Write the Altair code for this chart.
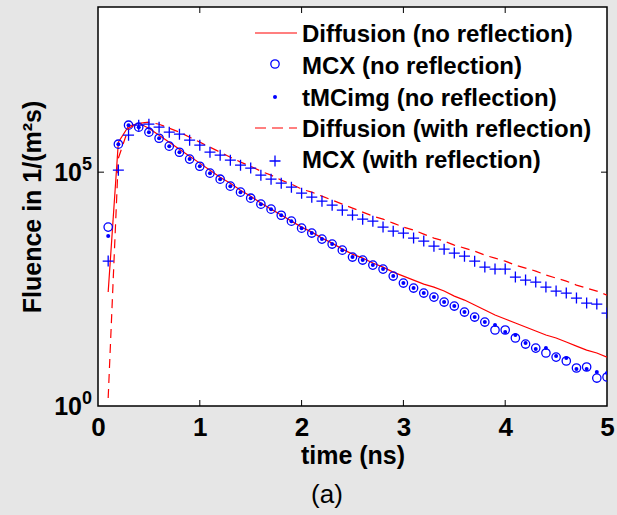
import altair as alt
import pandas as pd

# time axis (ns)
t = [round(0.1 * i, 1) for i in range(1, 51)]

diff_noref = [273, 4.38e5, 9.6e5, 1.11e6, 8.71e5, 6.18e5, 4.38e5, 3.10e5, 2.20e5, 1.56e5,
              1.10e5, 7.82e4, 5.82e4, 4.12e4, 3.07e4, 2.18e4, 1.62e4, 1.21e4, 8.97e3, 6.68e3,
              5.22e3, 3.89e3, 3.04e3, 2.26e3, 1.77e3, 1.45e3, 1.14e3, 933, 730, 600,
              492, 404, 349, 287, 224, 184, 144, 113, 88, 72.3,
              59.4, 48.8, 40.1, 32.9, 28.4, 23.3, 19.1, 15.7, 13.6, 11.1]

mcx_noref = [6683, 3.96e5, 1.01e6, 9.16e5, 7.16e5, 5.32e5, 3.6e5, 2.67e5, 1.9e5, 1.34e5,
             9.53e4, 7.08e4, 5.02e4, 3.74e4, 2.78e4, 2.07e4, 1.62e4, 1.2e4, 8.97e3, 6.35e3,
             4.98e3, 3.7e3, 2.9e3, 2.15e3, 1.53e3, 1.32e3, 1.03e3, 845, 600, 425,
             332, 260, 213, 167, 137, 102, 79.8, 62.4, 42.1, 42.1,
             28.4, 21.1, 17.3, 13.6, 11.1, 9.16, 6.49, 6.81, 3.96, 4.17]

tmc_noref = [4290, 3.96e5, 1.01e6, 9.16e5, 7.16e5, 5.32e5, 3.6e5, 2.67e5, 1.9e5, 1.34e5,
             9.53e4, 7.08e4, 5.02e4, 3.74e4, 2.78e4, 2.07e4, 1.62e4, 1.2e4, 8.97e3, 6.35e3,
             4.98e3, 3.7e3, 2.9e3, 2.15e3, 1.53e3, 1.32e3, 1.03e3, 845, 600, 425,
             332, 260, 213, 167, 137, 102, 79.8, 62.4, 53.8, 38.1,
             32.9, 22.2, 16.5, 17.3, 11.7, 10.6, 6.18, 6.18, 5.33, 5.07]

diff_ref = [1.48, 1.99e5, 8.71e5, 1.11e6, 1.17e6, 1.06e6, 8.71e5, 7.16e5, 5.60e5, 4.38e5,
            3.42e5, 2.67e5, 2.09e5, 1.64e5, 1.34e5, 1.05e5, 8.63e4, 6.75e4, 5.54e4, 4.33e4,
            3.74e4, 3.07e4, 2.52e4, 2.07e4, 1.70e4, 1.40e4, 1.15e4, 9.9e3, 8.13e3, 6.68e3,
            5.77e3, 4.73e3, 3.89e3, 3.36e3, 2.75e3, 2.38e3, 2.05e3, 1.68e3, 1.45e3, 1.25e3,
            1.03e3, 889, 767, 630, 543, 469, 385, 332, 287, 235]

mcx_ref = [1254, 1.10e5, 6.18e5, 1.01e6, 1.06e6, 9.16e5, 7.16e5, 6.49e5, 4.83e5, 3.78e5,
           2.67e5, 2.31e5, 1.80e5, 1.41e5, 1.22e5, 8.63e4, 7.08e4, 5.82e4, 4.78e4, 3.56e4,
           2.92e4, 2.40e4, 1.97e4, 1.54e4, 1.21e4, 9.9e3, 8.97e3, 6.68e3, 5.48e3, 4.98e3,
           3.89e3, 3.36e3, 2.62e3, 2.26e3, 1.86e3, 1.60e3, 1.25e3, 933, 845, 845,
           571, 492, 446, 349, 287, 260, 203, 159, 151, 97]

series_names = ["Diffusion (no reflection)", "MCX (no reflection)", "tMCimg (no reflection)",
                "Diffusion (with reflection)", "MCX (with reflection)"]

x_ticks = [0, 1, 2, 3, 4, 5]
inner_x_ticks = [1, 2, 3, 4]
y_ticks = [1, 1e5]
y_exps = ["0", "5"]

FONT = "Liberation Sans"
RED = "#ff0000"
BLUE = "#0000ff"
W, H = 509, 399

x_enc = alt.X("t:Q", scale=alt.Scale(domain=[0, 5], nice=False, zero=False),
              axis=alt.Axis(title="time (ns)", values=x_ticks, format="d", labelFlush=False,
                            ticks=False, tickSize=0, domain=False, grid=False,
                            labelPadding=8, labelFont=FONT, labelFontSize=26,
                            labelFontWeight="bold", labelColor="black",
                            titleFont=FONT, titleFontSize=25, titleFontWeight="bold",
                            titleColor="black", titleY=57, titleBaseline="alphabetic"))
y_enc = alt.Y("v:Q", scale=alt.Scale(type="log", domain=[1, 3.4e8], nice=False),
              axis=alt.Axis(title="Fluence in 1/(m²s)", labels=False, ticks=False, tickSize=0,
                            domain=False, grid=False, titleFont=FONT, titleFontSize=25,
                            titleFontWeight="bold", titleColor="black", titleX=-66,
                            titleY=199.5, titleAngle=270, titleAlign="center",
                            titleBaseline="middle"))

def df(vals):
    return pd.DataFrame({"t": t, "v": vals})

line1 = alt.Chart(df(diff_noref)).mark_line(color=RED, strokeWidth=1.2, clip=True).encode(x=x_enc, y=y_enc)
circ = alt.Chart(df(mcx_noref)).mark_point(shape="circle", filled=False, color=BLUE, size=70,
                                           strokeWidth=1.3, opacity=1, clip=True).encode(x=x_enc, y=y_enc)
dots = alt.Chart(df(tmc_noref)).mark_point(shape="circle", filled=True, color=BLUE, size=16,
                                           opacity=1, clip=True).encode(x=x_enc, y=y_enc)
line2 = alt.Chart(df(diff_ref)).mark_line(color=RED, strokeWidth=1.2, strokeDash=[9, 6],
                                          clip=True).encode(x=x_enc, y=y_enc)
PLUS = "M-1,0L1,0M0,-1L0,1"
plus = alt.Chart(df(mcx_ref)).mark_point(shape=PLUS, filled=False, color=BLUE, size=121,
                                         strokeWidth=1.3, opacity=1, clip=True).encode(x=x_enc, y=y_enc)

# inner ticks
xt = pd.DataFrame({"t": inner_x_ticks})
bt = alt.Chart(xt).mark_rule(color="black", strokeWidth=1).encode(x=x_enc, y=alt.value(H), y2=alt.value(H - 6))
tt = alt.Chart(xt).mark_rule(color="black", strokeWidth=1).encode(x=x_enc, y=alt.value(0), y2=alt.value(6))
yt = pd.DataFrame({"v": [1e5]})
lt = alt.Chart(yt).mark_rule(color="black", strokeWidth=1).encode(y=y_enc, x=alt.value(0), x2=alt.value(6))
rt = alt.Chart(yt).mark_rule(color="black", strokeWidth=1).encode(y=y_enc, x=alt.value(W - 6), x2=alt.value(W))

# y tick labels 10^n
yl = pd.DataFrame({"v": y_ticks, "e": y_exps, "base": ["10", "10"]})
ten = alt.Chart(yl).mark_text(align="right", baseline="middle", dy=1, font=FONT, fontSize=25,
                              fontWeight="bold", color="black").encode(
    y=y_enc, x=alt.value(-16), text="base:N")
exp = alt.Chart(yl).mark_text(align="left", baseline="alphabetic", dy=-2, font=FONT, fontSize=18,
                              fontWeight="bold", color="black").encode(
    y=y_enc, x=alt.value(-16), text="e:N")

# legend (manual)
leg_y = [27, 59, 91, 122, 153]
legtext = alt.Chart(pd.DataFrame({"name": series_names, "yy": leg_y})).mark_text(
    align="left", baseline="middle", font=FONT, fontSize=24, fontWeight="bold", color="black",
    dy=1).encode(x=alt.value(204), y=alt.Y("yy:Q", scale=None), text="name:N")
leg_l1 = alt.Chart(pd.DataFrame({"a": [0]})).mark_rule(color=RED, strokeWidth=1.2).encode(
    x=alt.value(157), x2=alt.value(199), y=alt.value(26))
leg_l2 = alt.Chart(pd.DataFrame({"a": [0]})).mark_rule(color=RED, strokeWidth=1.2, strokeDash=[11, 6]).encode(
    x=alt.value(157), x2=alt.value(199), y=alt.value(121))
leg_c = alt.Chart(pd.DataFrame({"a": [0]})).mark_point(shape="circle", filled=False, color=BLUE, size=70,
                                                       strokeWidth=1.3, opacity=1).encode(
    x=alt.value(177), y=alt.value(57))
leg_d = alt.Chart(pd.DataFrame({"a": [0]})).mark_point(shape="circle", filled=True, color=BLUE, size=16,
                                                       opacity=1).encode(x=alt.value(177), y=alt.value(90))
leg_p = alt.Chart(pd.DataFrame({"a": [0]})).mark_point(shape=PLUS, filled=False, color=BLUE, size=121,
                                                       strokeWidth=1.3, opacity=1).encode(
    x=alt.value(177), y=alt.value(154))

cap = alt.Chart(pd.DataFrame({"s": ["(a)"]})).mark_text(
    align="center", baseline="alphabetic", font=FONT, fontSize=26, color="black").encode(
    x=alt.value(229), y=alt.value(496), text="s:N")

chart = alt.layer(line1, circ, dots, line2, plus, bt, tt, lt, rt, ten, exp,
                  legtext, leg_l1, leg_l2, leg_c, leg_d, leg_p, cap).properties(
    width=W, height=H,
    autosize=alt.AutoSizeParams(type="none"),
    padding={"left": 98, "top": 7, "right": 10, "bottom": 109},
    background="#e6e6e6",
).configure_view(stroke="black", strokeWidth=1.5, fill="white")

chart.save("out.html", embed_options={"renderer": "svg", "actions": False})
